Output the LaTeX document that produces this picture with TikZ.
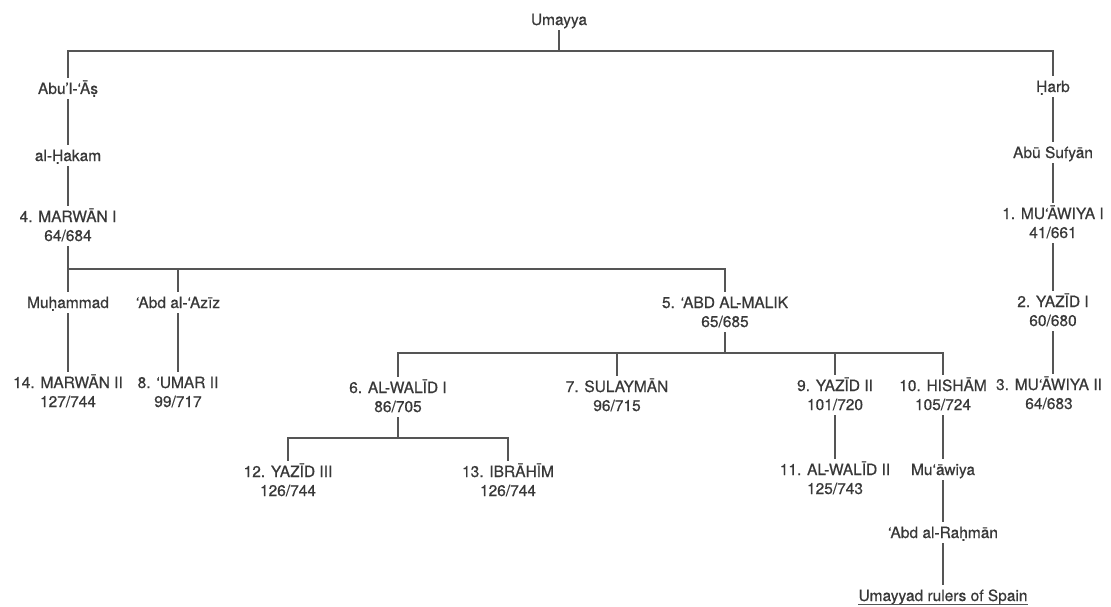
\documentclass[tikz,border=0pt]{standalone}
\usepackage{fontspec}
\setmainfont{TeX Gyre Heros}[FakeBold=0.6]
\definecolor{ink}{HTML}{383838}
\definecolor{linec}{HTML}{555555}
\begin{document}
\begin{tikzpicture}[x=1pt,y=-1pt]
\tikzset{
  nm/.style={font=\fontsize{15.5}{19}\selectfont, text=ink, inner xsep=1pt, inner ysep=3pt,
             text height=13pt, text depth=2pt, anchor=base},
  ln/.style={draw=linec, line width=1.3pt},
}
\useasboundingbox (0,0) rectangle (1111,607);
% bars
\coordinate (b1) at (0,51);
\coordinate (b2) at (0,269);
\coordinate (b3) at (0,353);
\coordinate (b4) at (0,438);
% nodes
\node[nm] (umayya) at (559,25) {Umayya};
\node[nm] (abu) at (68,94) {Abu’l-‘Āṣ};
\node[nm] (harb) at (1053,92) {Ḥarb};
\node[nm] (hakam) at (68,161) {al-Ḥakam};
\node[nm] (abus) at (1053,158) {Abū Sufyān};
\node[nm] (m4) at (68,222) {4. MARWĀN I};
\node[nm] (m4y) at (68,241) {64/684};
\node[nm] (mu1) at (1053,219) {1. MU‘ĀWIYA I};
\node[nm] (mu1y) at (1053,238) {41/661};
\node[nm] (muh) at (68,308) {Muḥammad};
\node[nm] (aziz) at (178,308) {‘Abd al-‘Azīz};
\node[nm] (malik) at (725,308) {5. ‘ABD AL-MALIK};
\node[nm] (maliky) at (725,327) {65/685};
\node[nm] (y2) at (1053,307) {2. YAZĪD I};
\node[nm] (y2y) at (1053,326) {60/680};
\node[nm] (m14) at (68,388) {14. MARWĀN II};
\node[nm] (m14y) at (68,407) {127/744};
\node[nm] (u8) at (178,388) {8. ‘UMAR II};
\node[nm] (u8y) at (178,407) {99/717};
\node[nm] (w6) at (398,393) {6. AL-WALĪD I};
\node[nm] (w6y) at (398,412) {86/705};
\node[nm] (s7) at (617,392) {7. SULAYMĀN};
\node[nm] (s7y) at (617,411) {96/715};
\node[nm] (y9) at (835,391) {9. YAZĪD II};
\node[nm] (y9y) at (835,410) {101/720};
\node[nm] (h10) at (943,391) {10. HISHĀM};
\node[nm] (h10y) at (943,410) {105/724};
\node[nm] (mu3) at (1049,390) {3. MU‘ĀWIYA II};
\node[nm] (mu3y) at (1049,409) {64/683};
\node[nm] (y12) at (288,477) {12. YAZĪD III};
\node[nm] (y12y) at (288,496) {126/744};
\node[nm] (i13) at (508,477) {13. IBRĀHĪM};
\node[nm] (i13y) at (508,496) {126/744};
\node[nm] (w11) at (835,475) {11. AL-WALĪD II};
\node[nm] (w11y) at (835,494) {125/743};
\node[nm] (muaw) at (943,475) {Mu‘āwiya};
\node[nm] (abdr) at (943,538) {‘Abd al-Raḥmān};
\node[nm, inner xsep=0pt] (spain) at (943,601) {Umayyad rulers of Spain};
\draw[ln, line width=1pt] ([yshift=-3pt]spain.base west) -- ([yshift=-3pt]spain.base east);
% connectors
\draw[ln] (umayya.south) -- (umayya.south |- b1);
\draw[ln] (abu.north) -- (abu.north |- b1) -- (harb.north |- b1) -- (harb.north);
\draw[ln] (abu.south) -- (hakam.north);
\draw[ln] (hakam.south) -- (m4.north);
\draw[ln] (harb.south) -- (abus.north);
\draw[ln] (abus.south) -- (mu1.north);
\draw[ln] (mu1y.south) -- (y2.north);
\draw[ln] (y2y.south) -- (y2y.south |- mu3.north);
\draw[ln] (m4y.south) -- (m4y.south |- b2);
\draw[ln] (muh.north) -- (muh.north |- b2) -- (malik.north |- b2) -- (malik.north);
\draw[ln] (aziz.north) -- (aziz.north |- b2);
\draw[ln] (muh.south) -- (m14.north);
\draw[ln] (aziz.south) -- (u8.north);
\draw[ln] (maliky.south) -- (maliky.south |- b3);
\draw[ln] (w6.north) -- (w6.north |- b3) -- (h10.north |- b3) -- (h10.north);
\draw[ln] (s7.north) -- (s7.north |- b3);
\draw[ln] (y9.north) -- (y9.north |- b3);
\draw[ln] (w6y.south) -- (w6y.south |- b4);
\draw[ln] (y12.north) -- (y12.north |- b4) -- (i13.north |- b4) -- (i13.north);
\draw[ln] (y9y.south) -- (w11.north);
\draw[ln] (h10y.south) -- (muaw.north);
\draw[ln] (muaw.south) -- (abdr.north);
\draw[ln] (abdr.south) -- (spain.north);
\end{tikzpicture}
\end{document}
